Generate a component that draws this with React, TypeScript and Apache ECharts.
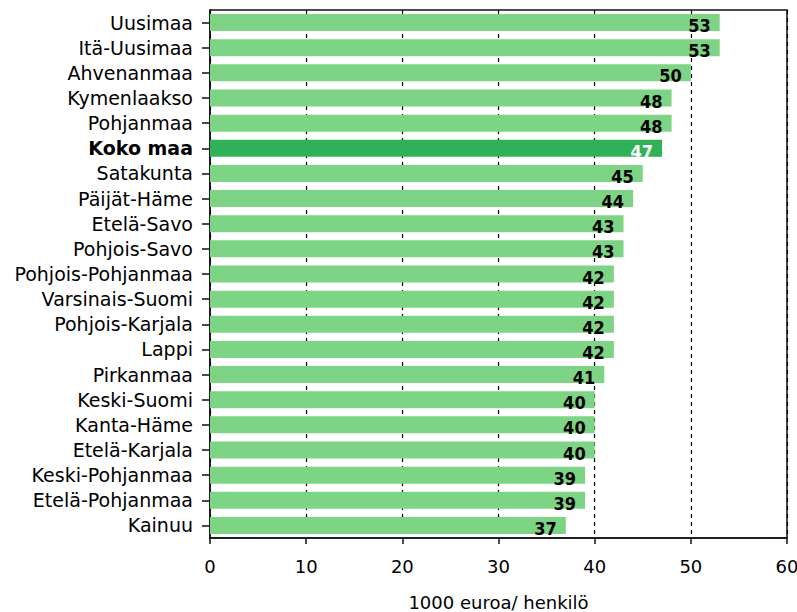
import React, { useEffect, useRef } from "react";
import * as echarts from "echarts";

const categories: string[] = [
  "Uusimaa",
  "Itä-Uusimaa",
  "Ahvenanmaa",
  "Kymenlaakso",
  "Pohjanmaa",
  "Koko maa",
  "Satakunta",
  "Päijät-Häme",
  "Etelä-Savo",
  "Pohjois-Savo",
  "Pohjois-Pohjanmaa",
  "Varsinais-Suomi",
  "Pohjois-Karjala",
  "Lappi",
  "Pirkanmaa",
  "Keski-Suomi",
  "Kanta-Häme",
  "Etelä-Karjala",
  "Keski-Pohjanmaa",
  "Etelä-Pohjanmaa",
  "Kainuu",
];

const values: number[] = [
  53, 53, 50, 48, 48, 47, 45, 44, 43, 43, 42, 42, 42, 42, 41, 40, 40, 40, 39, 39, 37,
];

const highlight = "Koko maa";
const xTicks = { min: 0, max: 60, interval: 10 };
const axisTitle = "1000 euroa/ henkilö";

const LIGHT = "#7dd485";
const DARK = "#30b158";
const FONT = "'DejaVu Sans', sans-serif";
const FONT_COND = "'DejaVu Sans Condensed', 'DejaVu Sans', sans-serif";

export default function App() {
  const ref = useRef<HTMLDivElement>(null);

  useEffect(() => {
    if (!ref.current) return;
    const chart = echarts.init(ref.current, undefined, { renderer: "svg" });
    const option: any = {
      animation: false,
      grid: {
        left: 210,
        right: 10,
        top: 10,
        bottom: 74,
        outerBoundsMode: "none",
        containLabel: false,
        show: true,
        borderColor: "#111",
        borderWidth: 1.5,
        backgroundColor: "transparent",
      },
      xAxis: {
        type: "value",
        min: xTicks.min,
        max: xTicks.max,
        interval: xTicks.interval,
        name: axisTitle,
        nameLocation: "middle",
        nameGap: 55,
        nameTextStyle: { fontFamily: FONT, fontSize: 18, color: "#000", lineHeight: 18 },
        axisLine: { show: true, lineStyle: { color: "#111", width: 1.5 } },
        axisTick: { show: true, length: 6, lineStyle: { color: "#111", width: 1.5 } },
        axisLabel: { fontFamily: FONT, fontSize: 18, color: "#000", margin: 19 },
        splitLine: {
          show: true,
          lineStyle: { color: "#000", type: [4, 4], width: 1.2 },
        },
      },
      yAxis: {
        type: "category",
        inverse: true,
        data: categories.map((c) =>
          c === highlight
            ? { value: c, textStyle: { fontWeight: "bold" } }
            : c
        ),
        axisLine: { show: true, lineStyle: { color: "#111", width: 1.5 } },
        axisTick: {
          show: true,
          alignWithLabel: true,
          length: 8,
          lineStyle: { color: "#111", width: 1.5 },
        },
        axisLabel: {
          fontFamily: FONT,
          fontSize: 19,
          color: "#000",
          margin: 17,
          interval: 0,
        },
        splitLine: { show: false },
      },
      series: [
        {
          type: "bar",
          barWidth: 17,
          data: values.map((v, i) => {
            const hl = categories[i] === highlight;
            return {
              value: v,
              itemStyle: { color: hl ? DARK : LIGHT },
              label: { color: hl ? "#fff" : "#000" },
            };
          }),
          label: {
            show: true,
            position: "insideRight",
            distance: 9,
            offset: [0, 3],
            fontFamily: FONT_COND,
            fontWeight: "bold",
            fontSize: 18,
            formatter: (p: any) => String(Math.round(p.value)),
          },
        },
      ],
    };
    chart.setOption(option);
    return () => chart.dispose();
  }, []);

  return (
    <div
      ref={ref}
      style={{ position: "absolute", left: 0, top: 0, width: 797, height: 612 }}
    />
  );
}
